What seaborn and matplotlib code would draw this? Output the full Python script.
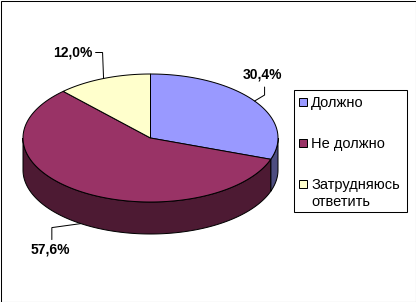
import numpy as np
import matplotlib
matplotlib.use("Agg")
import matplotlib.pyplot as plt
from matplotlib.patches import Polygon, Rectangle
import seaborn as sns

# ---- data ----
categories = ["Должно", "Не должно", "Затрудняюсь\nответить"]
values = [30.4, 57.6, 12.0]
value_labels = ["30,4%", "57,6%", "12,0%"]
colors = ["#9999FF", "#993366", "#FFFFCC"]

sns.set_theme(style="white")
plt.rcParams["font.family"] = ["Liberation Sans", "DejaVu Sans"]
palette = sns.color_palette(colors)

W, H = 416, 302
fig = plt.figure(figsize=(W / 100, H / 100), dpi=100)
ax = fig.add_axes([0, 0, 1, 1])
ax.set_xlim(0, W)
ax.set_ylim(H, 0)
ax.axis("off")

# outer frame
ax.add_patch(Rectangle((0.5, 0.5), W - 1, H - 1, fill=False, ec="black", lw=0.75))

# pie geometry (layout)
cx, cy, rx, ry, depth = 150.5, 138, 127.5, 64, 32
lw = 0.72

def arc(t1, t2, n=200, dy=0):
    t = np.radians(np.linspace(t1, t2, n))
    return np.column_stack([cx + rx * np.cos(t), cy - ry * np.sin(t) + dy])

fr = np.array(values) / np.sum(values)
starts = 90 - 360 * np.concatenate([[0], np.cumsum(fr)[:-1]])
ends = starts - 360 * fr

# side walls (front half, angles in [-180, 0] modulo 360)
for i in range(len(values)):
    c = np.array(palette[i]) * 0.5
    for k in (-360, 0, 360):
        lo = max(ends[i] + k, -180)
        hi = min(starts[i] + k, 0)
        if hi > lo:
            top = arc(hi, lo)
            bot = arc(lo, hi, dy=depth)
            ax.add_patch(Polygon(np.vstack([top, bot]), closed=True, fc=c,
                                 ec="black", lw=lw, joinstyle="miter"))

# top faces
for i in range(len(values)):
    pts = np.vstack([[cx, cy], arc(starts[i], ends[i])])
    ax.add_patch(Polygon(pts, closed=True, fc=palette[i], ec="black", lw=lw,
                         joinstyle="miter"))

# labels with leader lines (offsets are layout)
mids = (starts + ends) / 2
leader = {
    0: dict(path=[(10, -6), (10, -14)], text=(8, -27), ha="center"),
    1: dict(path=[(-29, 4), (-29, 16)], text=(-31, 26), ha="center", dy=depth),
    2: dict(path=[(-1, -26), (-8, -26)], text=(-31, -26), ha="center"),
}
for i in range(len(values)):
    L = leader[i]
    t = np.radians(mids[i])
    ax0 = cx + rx * np.cos(t)
    ay0 = cy - ry * np.sin(t) + L.get("dy", 0)
    xs = [ax0] + [ax0 + p[0] for p in L["path"]]
    ys = [ay0] + [ay0 + p[1] for p in L["path"]]
    ax.plot(xs, ys, color="black", lw=lw, solid_joinstyle="miter")
    ax.text(ax0 + L["text"][0], ay0 + L["text"][1], value_labels[i],
            ha=L["ha"], va="center", fontsize=10, fontweight="bold", color="black")

# legend (manual, Excel style)
lx0, ly0, lx1, ly1 = 293.5, 89.5, 406.5, 211.5
ax.add_patch(Rectangle((lx0, ly0), lx1 - lx0, ly1 - ly0, fill=False, ec="black", lw=0.75))
row_y = [102, 143, 184]
for i, cat in enumerate(categories):
    ax.add_patch(Rectangle((298.5, row_y[i] - 4), 8, 8, fc=palette[i], ec="black", lw=lw))
    ax.text(311, row_y[i] - 6, cat, ha="left", va="top", fontsize=10.5,
            color="black", linespacing=1.25)

fig.savefig("out.png", dpi=100, facecolor="white")
